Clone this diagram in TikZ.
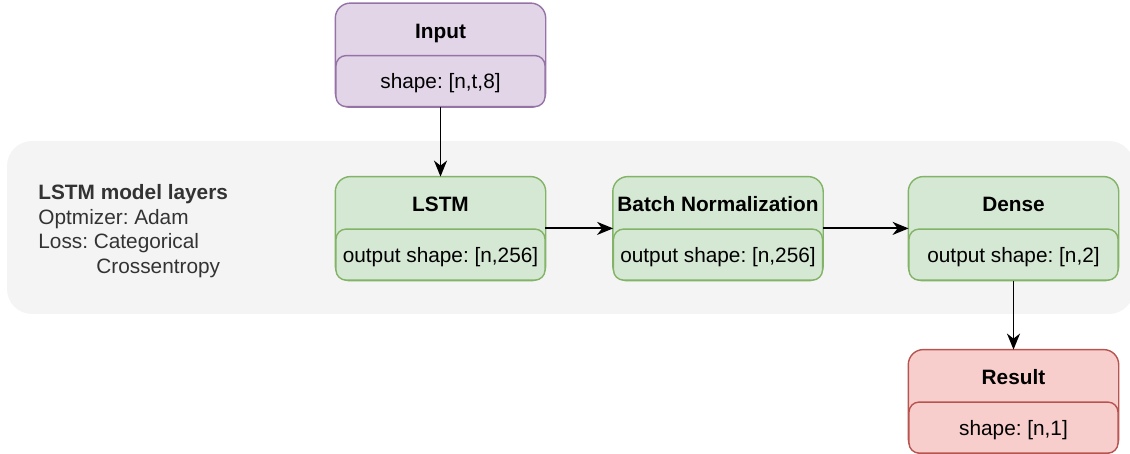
\documentclass[tikz,border=0pt]{standalone}
\usepackage{fontspec}
\setmainfont{Liberation Sans}
\usepackage{tikz}
\usetikzlibrary{ arrows.meta, backgrounds, fit, positioning }
\definecolor{inputfill}{HTML}{E1D5E7}
\definecolor{inputline}{HTML}{9673A6}
\definecolor{layerfill}{HTML}{D5E8D4}
\definecolor{layerline}{HTML}{82B366}
\definecolor{resultfill}{HTML}{F8CECC}
\definecolor{resultline}{HTML}{B85450}
\definecolor{panelfill}{HTML}{F4F4F4}
\definecolor{paneltext}{HTML}{333333}
\frenchspacing
\tikzset{
>={Stealth[length=8pt,width=6.5pt,inset=2.5pt]}, % filled arrow heads
x=0.5pt, y=-0.5pt, % one unit is one pixel of the sketch
every node/.style={font=\fontsize{10.4}{12.35}\selectfont},
head/.style={minimum width=104.5pt, minimum height=25.5pt, inner sep=0pt, text height=9.5pt, text depth=0pt, font=\fontsize{10.4}{12.35}\selectfont\bfseries}, % title part
body/.style={minimum width=104.5pt, minimum height=25.5pt, inner sep=0pt, text height=7.5pt, text depth=0pt, draw, line width=0.7pt, rounded corners=5pt}, % shape part
frame/.style={draw, line width=0.7pt, rounded corners=7.5pt, inner sep=0pt}, % whole box
link/.style={->, line width=0.9pt},
}

\begin{document}
\begin{tikzpicture}
  \useasboundingbox (0,0) rectangle (1130,454);

  % Input ---------------------------------
  \node[head] (input) at (440.5,29) {Input};
  \node[body, fill=inputfill, draw=inputline, below=0pt of input] (input-shape) {shape: [n,t,8]};

  % Layers ------------------------------
  \node[head] (lstm) at (440.5,202.5) {LSTM};
  \node[body, fill=layerfill, draw=layerline, below=0pt of lstm] (lstm-shape) {output shape: [n,256]};
  \node[head] (norm) at (718,202.5) {Batch Normalization};
  \node[body, fill=layerfill, draw=layerline, below=0pt of norm] (norm-shape) {output shape: [n,256]};
  \node[head] (dense) at (1013.5,202.5) {Dense};
  \node[body, fill=layerfill, draw=layerline, below=0pt of dense] (dense-shape) {output shape: [n,2]};

  % Result -------------------------------
  \node[head] (result) at (1013.5,375.5) {Result};
  \node[body, fill=resultfill, draw=resultline, below=0pt of result] (result-shape) {shape: [n,1]};

  % model notes
  \node[anchor=west, align=left, inner sep=0pt, text=paneltext] (notes) at (38,231)
    {\textbf{LSTM model layers}\\Optmizer: Adam\\Loss: Categorical\\\hspace*{29pt}Crossentropy};

  \draw[link] (input-shape) -- (lstm);
  \draw[link] (lstm.south east) -- (norm.south west);
  \draw[link] (norm.south east) -- (dense.south west);
  \draw[link] (dense-shape) -- (result);

  \begin{scope}[on background layer]
    \fill[panelfill, rounded corners=12.5pt] (7,141) rectangle (1134,314);
    \node[frame, fill=inputfill, draw=inputline, fit=(input)(input-shape)] {};
    \node[frame, fill=layerfill, draw=layerline, fit=(lstm)(lstm-shape)] {};
    \node[frame, fill=layerfill, draw=layerline, fit=(norm)(norm-shape)] {};
    \node[frame, fill=layerfill, draw=layerline, fit=(dense)(dense-shape)] {};
    \node[frame, fill=resultfill, draw=resultline, fit=(result)(result-shape)] {};
  \end{scope}
\end{tikzpicture}
\end{document}
